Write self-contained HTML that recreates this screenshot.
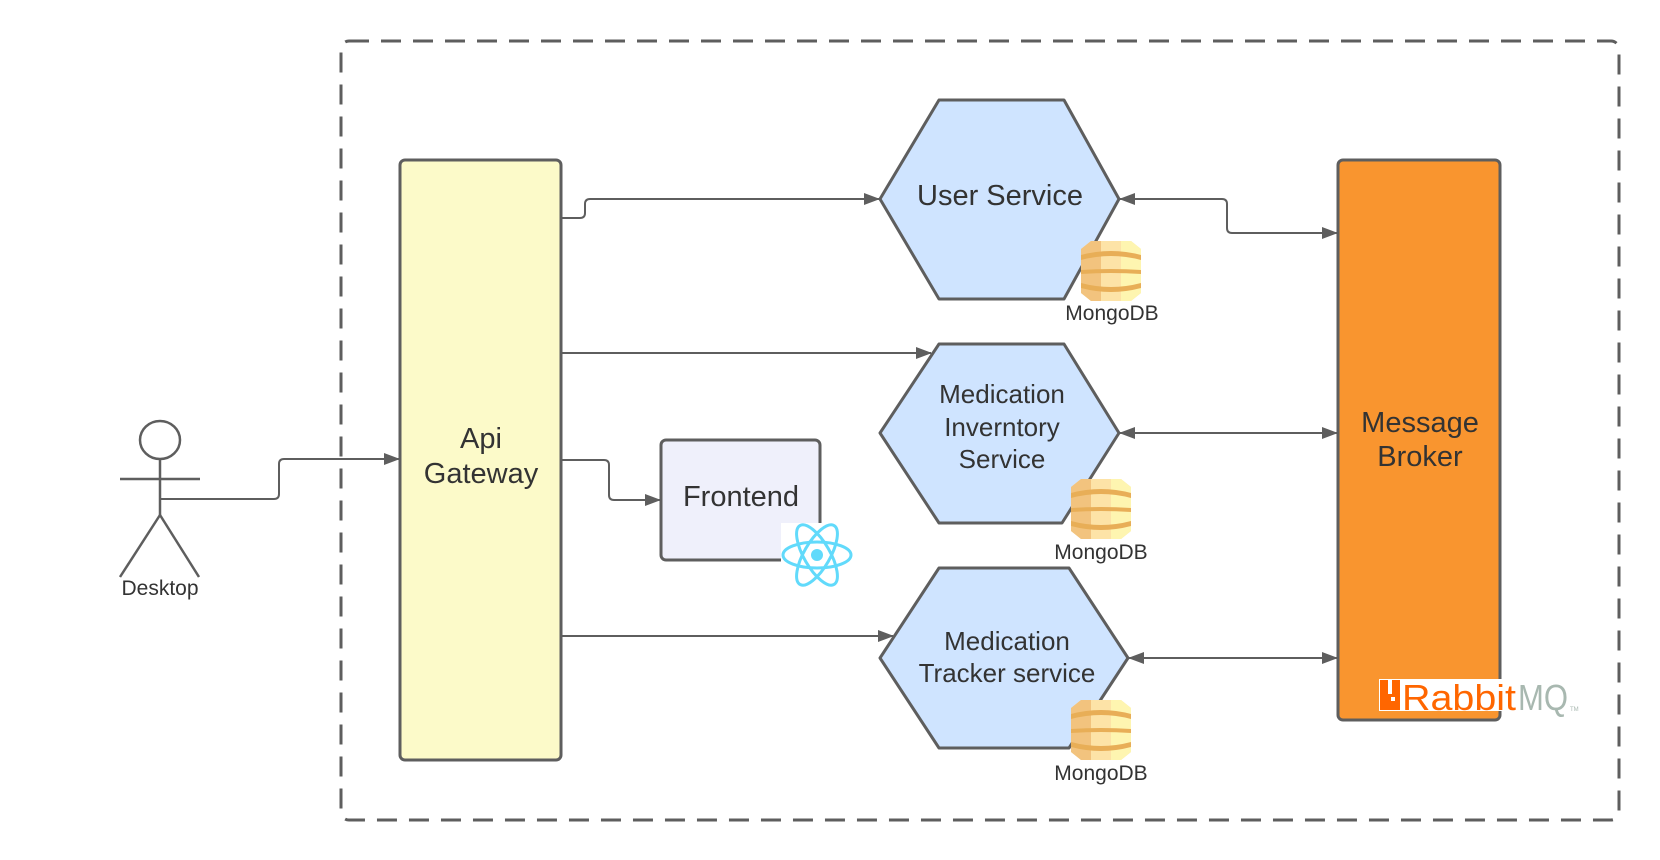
<!DOCTYPE html>
<html><head><meta charset="utf-8"><style>
html,body{margin:0;padding:0;background:#fff;}
svg{display:block;}
text{font-family:"Liberation Sans",sans-serif;fill:#333;}
</style></head><body>
<svg width="1660" height="860" viewBox="0 0 1660 860" xmlns="http://www.w3.org/2000/svg">
<defs>
<marker id="ah" markerWidth="16" markerHeight="12" refX="15" refY="6" orient="auto-start-reverse" markerUnits="userSpaceOnUse">
<path d="M0,0 L16,6 L0,12 Z" fill="#5e5e5e"/>
</marker>
<g id="mongo">
<path d="M10,0 H50 L60,8 V52 L50,60 H10 L0,52 V8 Z" fill="#fde3a7"/>
<path d="M10,0 H20 V60 H10 L0,52 V8 Z" fill="#f2c37e"/>
<path d="M40,0 H50 L60,8 V52 L50,60 H40 Z" fill="#fef5b0"/>
<path d="M0,14 Q30,6 60,14 V19 Q30,11 0,19 Z" fill="#e8ae57"/>
<path d="M0,29 Q30,27 60,29 V33 Q30,31 0,33 Z" fill="#e8ae57"/>
<path d="M0,42 Q30,50 60,42 V47 Q30,55 0,47 Z" fill="#e8ae57"/>
</g>
</defs>

<rect x="341" y="41" width="1278" height="779" rx="8" fill="none" stroke="#5e5e5e" stroke-width="3" stroke-dasharray="20 12"/>

<g fill="none" stroke="#5e5e5e" stroke-width="2">
<path d="M160,499 H274 Q279,499 279,494 V464 Q279,459 284,459 H399" marker-end="url(#ah)"/>
<path d="M561,218 H580 Q585,218 585,213 V204 Q585,199 590,199 H879" marker-end="url(#ah)"/>
<path d="M561,353 H931" marker-end="url(#ah)"/>
<path d="M561,460 H604 Q609,460 609,465 V495 Q609,500 614,500 H660" marker-end="url(#ah)"/>
<path d="M561,636 H893" marker-end="url(#ah)"/>
<path d="M1120,199 H1222 Q1227,199 1227,204 V228 Q1227,233 1232,233 H1337" marker-start="url(#ah)" marker-end="url(#ah)"/>
<path d="M1120,433 H1337" marker-start="url(#ah)" marker-end="url(#ah)"/>
<path d="M1129,658 H1337" marker-start="url(#ah)" marker-end="url(#ah)"/>
</g>

<g fill="none" stroke="#5e5e5e" stroke-width="2.5">
<ellipse cx="160" cy="440" rx="20" ry="19"/>
<line x1="160" y1="459" x2="160" y2="515"/>
<line x1="120" y1="479" x2="200" y2="479"/>
<line x1="160" y1="515" x2="120" y2="577"/>
<line x1="160" y1="515" x2="199" y2="577"/>
</g>
<text x="160" y="595" font-size="21" text-anchor="middle">Desktop</text>

<rect x="400" y="160" width="161" height="600" rx="5" fill="#fcfac9" stroke="#5e5e5e" stroke-width="3"/>
<text x="481" y="448" font-size="29" text-anchor="middle">Api</text>
<text x="481" y="483" font-size="29" text-anchor="middle">Gateway</text>

<rect x="661" y="440" width="159" height="120" rx="5" fill="#eff0fb" stroke="#5e5e5e" stroke-width="3"/>
<text x="741" y="506" font-size="29" text-anchor="middle">Frontend</text>
<rect x="781" y="523" width="72" height="64" fill="#fff"/>
<g fill="none" stroke="#61dafb" stroke-width="3">
<ellipse cx="817" cy="555" rx="34" ry="13"/>
<ellipse cx="817" cy="555" rx="34" ry="13" transform="rotate(60 817 555)"/>
<ellipse cx="817" cy="555" rx="34" ry="13" transform="rotate(-60 817 555)"/>
</g>
<circle cx="817" cy="555" r="6" fill="#61dafb"/>

<g fill="#cfe4ff" stroke="#5e5e5e" stroke-width="3" stroke-linejoin="round">
<path d="M939,100 H1064 L1119,199 L1064,299 H939 L880,199 Z"/>
<path d="M939,344 H1064 L1119,433 L1062,523 H939 L880,433 Z"/>
<path d="M939,568 H1069 L1128,658 L1069,748 H939 L880,658 Z"/>
</g>
<text x="1000" y="205" font-size="29" text-anchor="middle">User Service</text>
<text x="1002" y="403" font-size="26" text-anchor="middle">Medication</text>
<text x="1002" y="436" font-size="26" text-anchor="middle">Inverntory</text>
<text x="1002" y="468" font-size="26" text-anchor="middle">Service</text>
<text x="1007" y="650" font-size="26" text-anchor="middle">Medication</text>
<text x="1007" y="682" font-size="26" text-anchor="middle">Tracker service</text>

<use href="#mongo" x="1081" y="241"/>
<text x="1112" y="320" font-size="21" text-anchor="middle">MongoDB</text>
<use href="#mongo" x="1071" y="479"/>
<text x="1101" y="559" font-size="21" text-anchor="middle">MongoDB</text>
<use href="#mongo" x="1071" y="700"/>
<text x="1101" y="780" font-size="21" text-anchor="middle">MongoDB</text>

<rect x="1338" y="160" width="162" height="560" rx="5" fill="#f9952f" stroke="#5e5e5e" stroke-width="3"/>
<text x="1420" y="432" font-size="29" text-anchor="middle">Message</text>
<text x="1420" y="466" font-size="29" text-anchor="middle">Broker</text>

<rect x="1379" y="679" width="200" height="32" fill="#fff"/>
<path d="M1380,680 h8 v14 h4 v-14 h8 v30 h-20 Z" fill="#ff6600"/>
<rect x="1391" y="697" width="4" height="4" fill="#fff"/>
<text x="1402" y="710" font-size="36" style="fill:#ff6600" textLength="114" lengthAdjust="spacingAndGlyphs">Rabbit</text>
<text x="1518" y="710" font-size="36" style="fill:#a8b8b0" textLength="50" lengthAdjust="spacingAndGlyphs">MQ</text>
<text x="1570" y="711" font-size="6" style="fill:#a8b8b0">TM</text>
</svg>
</body></html>
